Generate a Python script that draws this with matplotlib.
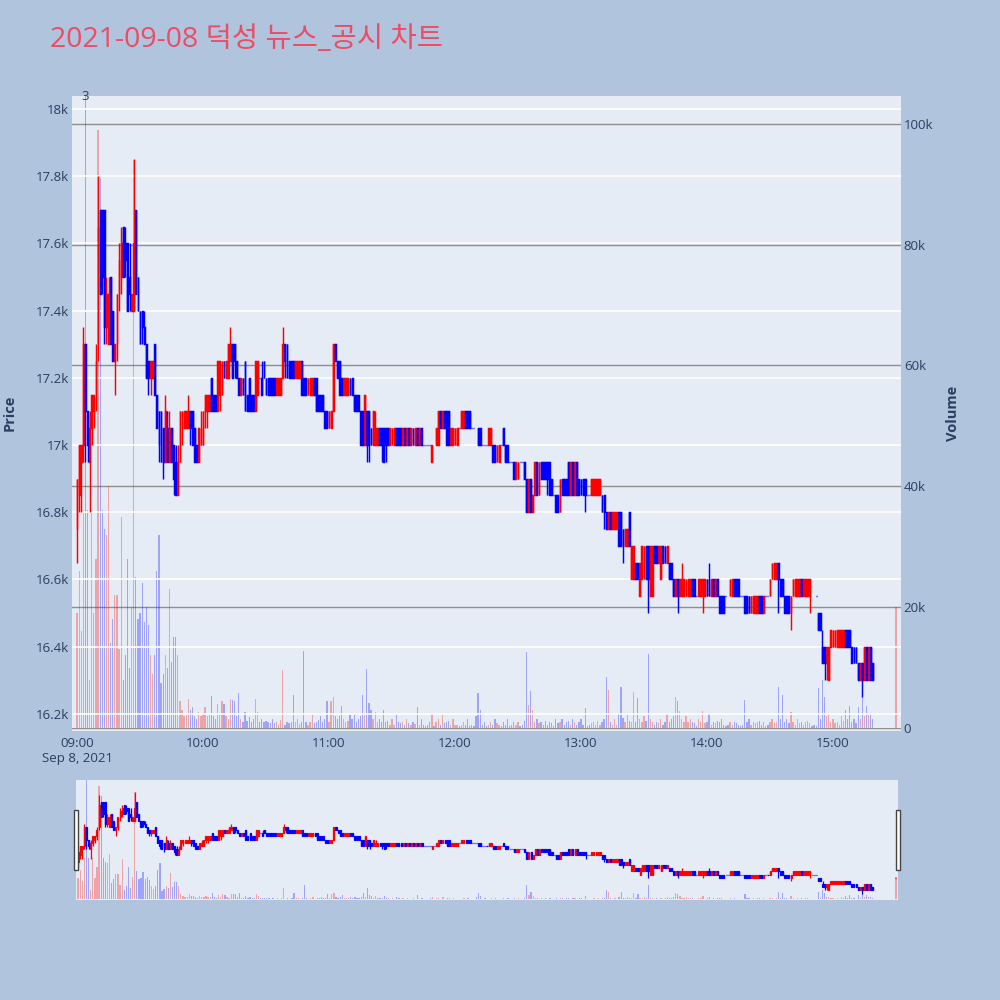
import numpy as np
import pandas as pd
import matplotlib
matplotlib.use("Agg")
import matplotlib.pyplot as plt
import matplotlib.dates as mdates
from matplotlib.patches import Rectangle

plt.rcParams["font.family"] = ["Open Sans", "Noto Sans CJK KR", "DejaVu Sans"]

title = "2021-09-08 덕성 뉴스_공시 차트"
start = "2021-09-08 09:00"

# one candle per minute from 09:00
opens = [
    16750, 16850, 16950, 17000, 17300, 17100, 16950, 17050, 17100, 17150,
    17300, 17700, 17700, 17700, 17350, 17300, 17500, 17400, 17250, 17300,
    17450, 17500, 17650, 17600, 17600, 17500, 17400, 17400, 17700, 17500,
    17400, 17400, 17350, 17300, 17250, 17200, 17200, 17300, 17150, 17100,
    17100, 17050, 16950, 17050, 16950, 17050, 17000, 16950, 16850, 16950,
    17050, 17050, 17050, 17050, 17100, 17100, 17050, 17000, 16950, 17000,
    17000, 17100, 17100, 17100, 17200, 17150, 17150, 17100, 17150, 17150,
    17250, 17200, 17200, 17250, 17300, 17300, 17250, 17200, 17150, 17200,
    17250, 17150, 17200, 17150, 17150, 17100, 17150, 17200, 17200, 17250,
    17200, 17200, 17200, 17200, 17200, 17150, 17150, 17150, 17200, 17300,
    17300, 17250, 17250, 17250, 17200, 17200, 17200, 17250, 17200, 17200,
    17150, 17150, 17150, 17200, 17200, 17150, 17150, 17150, 17100, 17100,
    17050, 17050, 17100, 17300, 17250, 17250, 17200, 17150, 17150, 17150,
    17200, 17200, 17150, 17150, 17150, 17100, 17100, 17000, 17100, 17100,
    17050, 17000, 17000, 17000, 17050, 17050, 17050, 17050, 17050, 17000,
    17000, 17000, 17050, 17050, 17050, 17000, 17050, 17000, 17050, 17000,
    17050, 17000, 17050, 17000, 17050, 17000, 17000, 17000, 17000, 16950,
    17000, 17000, 17000, 17100, 17050, 17100, 17100, 17100, 17000, 17000,
    17000, 17000, 17050, 17050, 17050, 17100, 17100, 17100, 17050, 17050,
    17050, 17050, 17050, 17000, 17000, 17000, 17000, 17000, 17000, 17000,
    16950, 16950, 17000, 17050, 17000, 17000, 16950, 16950, 16950, 16900,
    16900, 16950, 16950, 16950, 16900, 16800, 16900, 16800, 16850, 16950,
    16850, 16950, 16950, 16950, 16950, 16950, 16900, 16850, 16850, 16850,
    16800, 16900, 16900, 16900, 16950, 16850, 16950, 16850, 16950, 16900,
    16900, 16900, 16900, 16850, 16850, 16850, 16850, 16850, 16850, 16850,
    16850, 16850, 16800, 16750, 16800, 16750, 16750, 16750, 16800, 16800,
    16750, 16700, 16700, 16800, 16600, 16600, 16650, 16650, 16550, 16600,
    16600, 16700, 16700, 16550, 16550, 16700, 16700, 16650, 16600, 16700,
    16700, 16650, 16650, 16650, 16600, 16550, 16600, 16550, 16550, 16550,
    16550, 16550, 16550, 16600, 16600, 16550, 16550, 16550, 16550, 16550,
    16600, 16600, 16550, 16600, 16550, 16600, 16550, 16550, 16550, 16550,
    16550, 16550, 16550, 16600, 16600, 16600, 16550, 16550, 16550, 16550,
    16550, 16500, 16500, 16500, 16500, 16550, 16550, 16500, 16550, 16550,
    16550, 16600, 16600, 16600, 16650, 16600, 16600, 16550, 16550, 16550,
    16500, 16550, 16550, 16550, 16550, 16600, 16550, 16550, 16550, 16550,
    16550, 16550, 16550, 16500, 16500, 16400, 16400, 16350, 16300, 16400,
    16400, 16400, 16400, 16400, 16400, 16400, 16450, 16450, 16450, 16400,
    16400, 16400, 16350, 16300, 16350, 16300, 16400, 16300, 16400, 16350,
]
highs = [
    16900, 17000, 17000, 17350, 17300, 17100, 17100, 17150, 17150, 17300,
    17800, 17700, 17700, 17700, 17500, 17500, 17500, 17400, 17300, 17450,
    17600, 17650, 17650, 17650, 17600, 17600, 17450, 17850, 17700, 17500,
    17400, 17400, 17400, 17300, 17250, 17250, 17250, 17300, 17150, 17100,
    17100, 17050, 17150, 17100, 17100, 17050, 17000, 17000, 17000, 17100,
    17100, 17100, 17100, 17150, 17100, 17100, 17050, 17000, 17050, 17100,
    17100, 17150, 17150, 17150, 17200, 17150, 17150, 17250, 17250, 17250,
    17250, 17250, 17300, 17350, 17300, 17300, 17250, 17200, 17200, 17200,
    17250, 17150, 17200, 17150, 17150, 17250, 17250, 17200, 17250, 17250,
    17200, 17200, 17200, 17200, 17200, 17200, 17200, 17200, 17350, 17300,
    17300, 17250, 17250, 17250, 17250, 17250, 17250, 17250, 17200, 17200,
    17200, 17200, 17200, 17200, 17200, 17150, 17150, 17150, 17100, 17100,
    17100, 17100, 17300, 17300, 17250, 17250, 17200, 17200, 17200, 17200,
    17200, 17200, 17150, 17150, 17150, 17100, 17100, 17150, 17100, 17100,
    17050, 17100, 17100, 17050, 17050, 17050, 17050, 17050, 17050, 17050,
    17050, 17050, 17050, 17050, 17050, 17050, 17050, 17050, 17050, 17050,
    17050, 17050, 17050, 17050, 17050, 17000, 17000, 17000, 17000, 17000,
    17000, 17050, 17100, 17100, 17100, 17100, 17100, 17100, 17050, 17050,
    17050, 17050, 17050, 17100, 17100, 17100, 17100, 17100, 17050, 17050,
    17050, 17050, 17050, 17000, 17000, 17000, 17050, 17050, 17000, 17000,
    17000, 17000, 17000, 17050, 17000, 17000, 16950, 16950, 16950, 16950,
    16950, 16950, 16950, 16950, 16900, 16900, 16900, 16850, 16950, 16950,
    16950, 16950, 16950, 16950, 16950, 16950, 16900, 16850, 16850, 16850,
    16900, 16900, 16900, 16900, 16950, 16950, 16950, 16950, 16950, 16900,
    16900, 16900, 16900, 16850, 16850, 16900, 16900, 16900, 16900, 16900,
    16850, 16850, 16800, 16800, 16800, 16800, 16800, 16800, 16800, 16800,
    16750, 16750, 16750, 16800, 16700, 16700, 16650, 16650, 16650, 16700,
    16700, 16700, 16700, 16700, 16700, 16700, 16700, 16700, 16700, 16700,
    16700, 16700, 16650, 16650, 16600, 16600, 16600, 16600, 16650, 16600,
    16600, 16600, 16600, 16600, 16600, 16550, 16600, 16600, 16600, 16600,
    16600, 16650, 16600, 16600, 16600, 16600, 16550, 16550, 16550, 16550,
    16550, 16600, 16600, 16600, 16600, 16600, 16550, 16550, 16550, 16550,
    16550, 16550, 16550, 16550, 16550, 16550, 16550, 16550, 16550, 16550,
    16600, 16650, 16650, 16650, 16650, 16600, 16600, 16550, 16550, 16550,
    16550, 16600, 16600, 16600, 16600, 16600, 16600, 16600, 16600, 16600,
    16550, 16550, 16550, 16500, 16500, 16450, 16400, 16400, 16400, 16450,
    16450, 16450, 16450, 16450, 16450, 16450, 16450, 16450, 16450, 16400,
    16400, 16400, 16350, 16350, 16350, 16400, 16400, 16400, 16400, 16350,
]
lows = [
    16650, 16800, 16800, 16950, 16950, 16950, 16800, 17000, 17050, 17100,
    17250, 17450, 17450, 17300, 17300, 17300, 17300, 17250, 17150, 17250,
    17400, 17450, 17500, 17500, 17400, 17400, 17400, 17400, 17450, 17400,
    17300, 17300, 17300, 17200, 17150, 17150, 17200, 17150, 17050, 16950,
    16950, 16900, 16950, 16950, 16950, 16950, 16850, 16850, 16850, 16950,
    17000, 17050, 17050, 17050, 17000, 17000, 16950, 16950, 16950, 17000,
    17000, 17050, 17050, 17100, 17100, 17100, 17100, 17100, 17100, 17150,
    17200, 17200, 17200, 17250, 17200, 17200, 17200, 17150, 17150, 17150,
    17100, 17100, 17100, 17100, 17100, 17100, 17150, 17200, 17150, 17200,
    17150, 17150, 17150, 17150, 17150, 17150, 17150, 17150, 17200, 17200,
    17200, 17200, 17200, 17200, 17200, 17200, 17200, 17150, 17150, 17150,
    17150, 17150, 17150, 17150, 17100, 17100, 17100, 17100, 17050, 17050,
    17050, 17050, 17100, 17250, 17200, 17150, 17150, 17150, 17150, 17150,
    17150, 17150, 17100, 17100, 17100, 17000, 17000, 17000, 16950, 16950,
    17000, 17000, 17000, 17000, 17000, 16950, 16950, 16950, 17000, 17000,
    17000, 17000, 17000, 17000, 17000, 17000, 17000, 17000, 17000, 17000,
    17000, 17000, 17000, 17000, 17000, 17000, 17000, 17000, 17000, 16950,
    17000, 17000, 17000, 17050, 17050, 17050, 17000, 17000, 17000, 17000,
    17000, 17000, 17050, 17050, 17050, 17050, 17050, 17050, 17050, 17050,
    17050, 17000, 17000, 17000, 17000, 17000, 17000, 17000, 16950, 16950,
    16950, 16950, 17000, 17000, 16950, 16950, 16950, 16950, 16900, 16900,
    16900, 16950, 16950, 16900, 16800, 16800, 16800, 16800, 16850, 16850,
    16850, 16900, 16900, 16900, 16850, 16850, 16850, 16850, 16800, 16800,
    16800, 16850, 16850, 16850, 16850, 16850, 16850, 16850, 16850, 16850,
    16850, 16850, 16800, 16850, 16850, 16850, 16850, 16850, 16850, 16850,
    16800, 16750, 16750, 16750, 16750, 16750, 16750, 16750, 16700, 16700,
    16650, 16700, 16700, 16700, 16600, 16600, 16600, 16600, 16550, 16600,
    16600, 16600, 16500, 16550, 16550, 16650, 16650, 16650, 16600, 16650,
    16650, 16650, 16600, 16600, 16550, 16550, 16500, 16550, 16550, 16550,
    16550, 16550, 16550, 16550, 16550, 16550, 16550, 16550, 16500, 16550,
    16550, 16550, 16550, 16550, 16550, 16550, 16500, 16500, 16500, 16550,
    16550, 16550, 16550, 16550, 16550, 16550, 16550, 16550, 16500, 16500,
    16500, 16500, 16500, 16500, 16500, 16500, 16500, 16500, 16550, 16550,
    16550, 16600, 16600, 16600, 16500, 16550, 16550, 16500, 16500, 16500,
    16450, 16550, 16550, 16550, 16550, 16550, 16550, 16550, 16550, 16500,
    16550, 16550, 16550, 16450, 16450, 16350, 16300, 16300, 16300, 16400,
    16400, 16400, 16400, 16400, 16400, 16400, 16400, 16400, 16400, 16350,
    16350, 16350, 16300, 16300, 16250, 16300, 16300, 16300, 16300, 16300,
]
closes = [
    16900, 17000, 17000, 17300, 17100, 17000, 17050, 17150, 17150, 17250,
    17650, 17450, 17500, 17350, 17450, 17450, 17300, 17250, 17300, 17450,
    17550, 17600, 17500, 17550, 17400, 17450, 17450, 17600, 17450, 17400,
    17300, 17350, 17300, 17200, 17200, 17250, 17250, 17150, 17050, 17000,
    16950, 16950, 17100, 16950, 17050, 16950, 16900, 16850, 16950, 17100,
    17100, 17100, 17100, 17100, 17050, 17000, 16950, 16950, 17050, 17050,
    17100, 17150, 17150, 17150, 17100, 17100, 17100, 17250, 17250, 17250,
    17200, 17250, 17300, 17300, 17200, 17250, 17200, 17150, 17200, 17150,
    17100, 17100, 17100, 17100, 17100, 17250, 17250, 17200, 17150, 17200,
    17150, 17150, 17150, 17150, 17150, 17200, 17200, 17200, 17300, 17250,
    17200, 17200, 17200, 17200, 17250, 17250, 17250, 17150, 17150, 17150,
    17200, 17200, 17200, 17150, 17100, 17100, 17100, 17100, 17050, 17050,
    17100, 17100, 17300, 17250, 17200, 17150, 17150, 17200, 17200, 17200,
    17150, 17150, 17100, 17100, 17100, 17000, 17000, 17150, 17000, 17000,
    17000, 17100, 17050, 17050, 17000, 17000, 16950, 17000, 17000, 17050,
    17050, 17050, 17000, 17000, 17000, 17050, 17000, 17050, 17000, 17050,
    17000, 17050, 17000, 17050, 17000, 17000, 17000, 17000, 17000, 17000,
    17000, 17050, 17100, 17050, 17100, 17050, 17000, 17000, 17050, 17050,
    17050, 17050, 17050, 17100, 17100, 17050, 17050, 17050, 17050, 17050,
    17050, 17000, 17000, 17000, 17000, 17000, 17050, 17050, 16950, 16950,
    17000, 17000, 17000, 17000, 16950, 16950, 16950, 16950, 16900, 16950,
    16950, 16950, 16950, 16900, 16800, 16900, 16800, 16850, 16950, 16850,
    16950, 16900, 16900, 16900, 16900, 16850, 16850, 16850, 16800, 16800,
    16900, 16850, 16850, 16850, 16850, 16950, 16850, 16950, 16850, 16850,
    16850, 16850, 16850, 16850, 16850, 16900, 16900, 16900, 16900, 16900,
    16800, 16800, 16750, 16800, 16750, 16800, 16800, 16800, 16700, 16700,
    16700, 16750, 16750, 16700, 16700, 16700, 16600, 16600, 16650, 16700,
    16700, 16600, 16600, 16700, 16700, 16650, 16650, 16700, 16700, 16650,
    16650, 16700, 16600, 16600, 16550, 16600, 16550, 16600, 16600, 16600,
    16600, 16600, 16600, 16550, 16550, 16550, 16600, 16600, 16600, 16600,
    16550, 16550, 16600, 16550, 16600, 16550, 16500, 16500, 16500, 16550,
    16550, 16600, 16600, 16550, 16550, 16550, 16550, 16550, 16500, 16500,
    16500, 16550, 16550, 16550, 16550, 16500, 16500, 16550, 16550, 16550,
    16600, 16650, 16650, 16650, 16600, 16550, 16550, 16500, 16500, 16500,
    16550, 16600, 16600, 16600, 16600, 16550, 16600, 16600, 16600, 16600,
    16550, 16550, 16550, 16450, 16450, 16350, 16350, 16400, 16400, 16450,
    16450, 16450, 16450, 16450, 16450, 16450, 16400, 16400, 16400, 16350,
    16350, 16350, 16300, 16350, 16300, 16400, 16300, 16400, 16300, 16300,
]
# traded volume per minute, thousands of shares
volumes_k = [
    19, 26, 16, 36, 105, 36, 8, 36, 19, 28,
    99, 91, 36, 33, 32, 40, 14, 18, 22, 22,
    13, 35, 8, 12, 28, 10, 20, 94, 25, 18,
    19, 24, 17.6, 20, 17, 12, 9, 12, 26, 32,
    7.5, 9, 12, 10, 23, 11, 15, 15, 12, 4.4,
    3, 2, 2.5, 4.8, 3, 3.4, 2, 1.5, 2.6, 2,
    2.4, 3.4, 2, 2.5, 5.3, 2, 1.5, 3.9, 2.5, 4.4,
    3.9, 2, 1.5, 4.8, 4.6, 4.4, 2, 5.8, 1.5, 1,
    2.6, 1.2, 1.8, 1, 1.5, 4.8, 2.6, 1, 1.5, 1,
    1.2, 1, 0.8, 1.5, 0.8, 1, 0.5, 1.3, 9.6, 0.5,
    1, 0.8, 1, 5.4, 1, 1.5, 0.6, 1, 12.8, 1,
    0.5, 1, 2.2, 0.8, 1, 1.3, 2, 1, 1.5, 4.4,
    1, 4.4, 5.2, 2, 1.5, 2, 3.6, 1.5, 1, 1.2,
    2.2, 1.5, 2.2, 1, 1.5, 2, 5.5, 2.5, 9.8, 4.1,
    3, 1.5, 2.7, 1, 1.5, 1, 3, 1, 1.2, 0.5,
    1.5, 0.5, 2.3, 1, 0.8, 1, 0.5, 1.5, 0.8, 0.5,
    1, 0.6, 3.5, 0.5, 1.5, 0.5, 0.3, 0.5, 1, 2.5,
    0.3, 1, 1.5, 0.5, 2.3, 0.8, 1, 1.2, 0.5, 1.5,
    0.5, 0.5, 0.3, 0.5, 1, 0.5, 1.5, 0.3, 0.5, 0.3,
    2, 5.8, 3, 0.5, 1, 0.3, 0.5, 1, 0.5, 1.5,
    0.8, 0.5, 0.3, 1, 0.5, 1.5, 0.3, 0.5, 1, 0.5,
    1, 0.3, 0.5, 1.2, 12.5, 3.8, 6.2, 3, 1, 1.5,
    0.8, 1, 0.5, 1.2, 0.5, 1, 0.8, 0.3, 1.5, 0.8,
    1, 1.5, 0.5, 1, 1.2, 0.5, 1.5, 1, 0.5, 1,
    1.5, 0.5, 3.3, 0.3, 0.5, 0.8, 1, 0.5, 1.2, 0.5,
    1, 1.5, 8.4, 6.3, 1, 0.5, 1.5, 0.5, 2.5, 6.8,
    1.6, 1, 2.1, 1.2, 1, 6, 1, 4.9, 1.5, 1,
    2, 1.2, 12.3, 1.5, 1, 0.5, 1, 0.8, 1.5, 0.5,
    1, 2.5, 1, 1.5, 2, 5.2, 4.4, 2.8, 1.5, 1,
    2, 1, 1.5, 1, 0.8, 0.3, 1.5, 1, 2.8, 0.8,
    1, 2.5, 0.5, 1, 0.8, 1.2, 1, 1.5, 0.5, 0.3,
    0.5, 1, 0.5, 1, 0.8, 0.5, 0.3, 0.5, 4.6, 1,
    1.5, 0.5, 1, 0.8, 1, 1.2, 0.5, 1, 0.3, 0.5,
    1, 1.5, 0.8, 1, 6.7, 1.5, 5.5, 1, 1.5, 0.8,
    2.7, 1, 0.5, 1.5, 0.8, 1, 0.5, 1, 1.2, 0.8,
    0.3, 0.5, 0.3, 6.6, 1.5, 7.9, 5.2, 2, 2.5, 1,
    1.5, 0.8, 1, 0.5, 2, 1.2, 3, 1.5, 3.7, 1,
    1.5, 0.8, 3.5, 1.5, 5.2, 2, 3.7, 2.5, 2.5, 1.5,
]

# closing auction
auction_time = "2021-09-08 15:30"
auction_price = 16500
auction_volume_k = 20

news_label = "3"
news_minute = 4

price_ticks = [16200, 16400, 16600, 16800, 17000, 17200, 17400, 17600, 17800, 18000]
price_labels = ["16.2k", "16.4k", "16.6k", "16.8k", "17k", "17.2k", "17.4k", "17.6k", "17.8k", "18k"]
volume_ticks = [0, 20000, 40000, 60000, 80000, 100000]
volume_labels = ["0", "20k", "40k", "60k", "80k", "100k"]
hour_ticks = ["09:00", "10:00", "11:00", "12:00", "13:00", "14:00", "15:00"]

UP = "#ff0000"
DOWN = "#0000ff"
BG = "#b0c4de"
PLOT_BG = "#e5ecf6"
TXT = "#2a3f5f"
MIN = 1.0 / 1440

o = np.array(opens, float)
h = np.array(highs, float)
l = np.array(lows, float)
c = np.array(closes, float)
v = np.array(volumes_k, float) * 1000
t = mdates.date2num(pd.date_range(start, periods=len(o), freq="min").to_numpy())
t0 = t[0]
ta = mdates.date2num(pd.Timestamp(auction_time).to_datetime64())
cols = np.where(c > o, UP, DOWN)

P_LIM = (16149, 18039)
V_LIM = (-500, 104600)


def draw(ax_v, ax_p, lw, body_w, vol_w):
    ax_v.bar(t, v, width=vol_w * MIN, color=cols, alpha=0.3, linewidth=0)
    ax_v.bar([ta], [auction_volume_k * 1000], width=vol_w * MIN, color=UP, alpha=0.3, linewidth=0)
    ax_p.vlines(t, l, h, colors=cols, linewidth=lw)
    ax_p.bar(t, np.abs(c - o), bottom=np.minimum(o, c), width=body_w * MIN,
             color=cols, edgecolor=cols, linewidth=lw)
    ax_p.bar([ta], [0], bottom=[auction_price], width=body_w * MIN,
             color=UP, edgecolor=UP, linewidth=lw)
    ax_v.set_ylim(*V_LIM)
    ax_p.set_ylim(*P_LIM)
    for a in (ax_v, ax_p):
        for s in a.spines.values():
            s.set_visible(False)


fig = plt.figure(figsize=(10, 10), dpi=100)
fig.patch.set_facecolor(BG)

# main chart
ax_v = fig.add_axes([0.072, 0.269, 0.829, 0.635])
ax_v.set_facecolor(PLOT_BG)
ax_p = ax_v.twinx()
draw(ax_v, ax_p, lw=1.05, body_w=0.4, vol_w=0.6)
ax_v.set_xlim(t0 - 2.4 * MIN, t0 + 392.4 * MIN)

ax_v.set_axisbelow(True)
ax_p.set_axisbelow(True)
ax_v.yaxis.tick_right()
ax_p.yaxis.tick_left()
ax_v.set_yticks(volume_ticks, volume_labels)
ax_p.set_yticks(price_ticks, price_labels)
ax_v.grid(axis="y", color="#8f8f8f", linewidth=1.0)
ax_p.grid(axis="y", color="white", linewidth=1.2)
ax_v.axhline(0, color="white", linewidth=1.6, zorder=0.5)

hour_pos = mdates.date2num(pd.to_datetime(["2021-09-08 " + s for s in hour_ticks]).to_numpy())
hour_lbl = list(hour_ticks)
hour_lbl[0] = "09:00\nSep 8, 2021"
ax_v.set_xticks(hour_pos, hour_lbl)
ax_v.tick_params(axis="x", length=0, pad=4, labelsize=9.5, labelcolor=TXT)
ax_v.tick_params(axis="y", length=0, pad=2, labelsize=9.5, labelcolor=TXT)
ax_p.tick_params(axis="y", length=0, pad=2, labelsize=9.5, labelcolor=TXT)

ax_p.text(t[news_minute], 1.0, news_label, transform=ax_p.get_xaxis_transform(),
          ha="center", va="center", fontsize=9.5, color=TXT)

# range slider
ax_sv = fig.add_axes([0.076, 0.100, 0.822, 0.120])
ax_sv.set_facecolor(PLOT_BG)
ax_sp = ax_sv.twinx()
draw(ax_sv, ax_sp, lw=0.9, body_w=0.5, vol_w=0.6)
ax_sv.set_xlim(t0 - 1 * MIN, t0 + 391 * MIN)
for a in (ax_sv, ax_sp):
    a.set_xticks([])
    a.set_yticks([])
for x0 in (0.0735, 0.8955):
    fig.patches.append(Rectangle((x0, 0.130), 0.0045, 0.060, transform=fig.transFigure,
                                 facecolor="white", edgecolor="#444444", linewidth=1.0))

fig.text(0.05, 0.96, title, fontsize=20.5, color="#ec4c64", ha="left", va="center")
fig.text(0.010, 0.587, "Price", rotation=90, ha="center", va="center",
         fontsize=10.5, fontweight="bold", color=TXT)
fig.text(0.953, 0.587, "Volume", rotation=90, ha="center", va="center",
         fontsize=10.5, fontweight="bold", color=TXT)

fig.savefig("out.png", dpi=100, facecolor=BG)
